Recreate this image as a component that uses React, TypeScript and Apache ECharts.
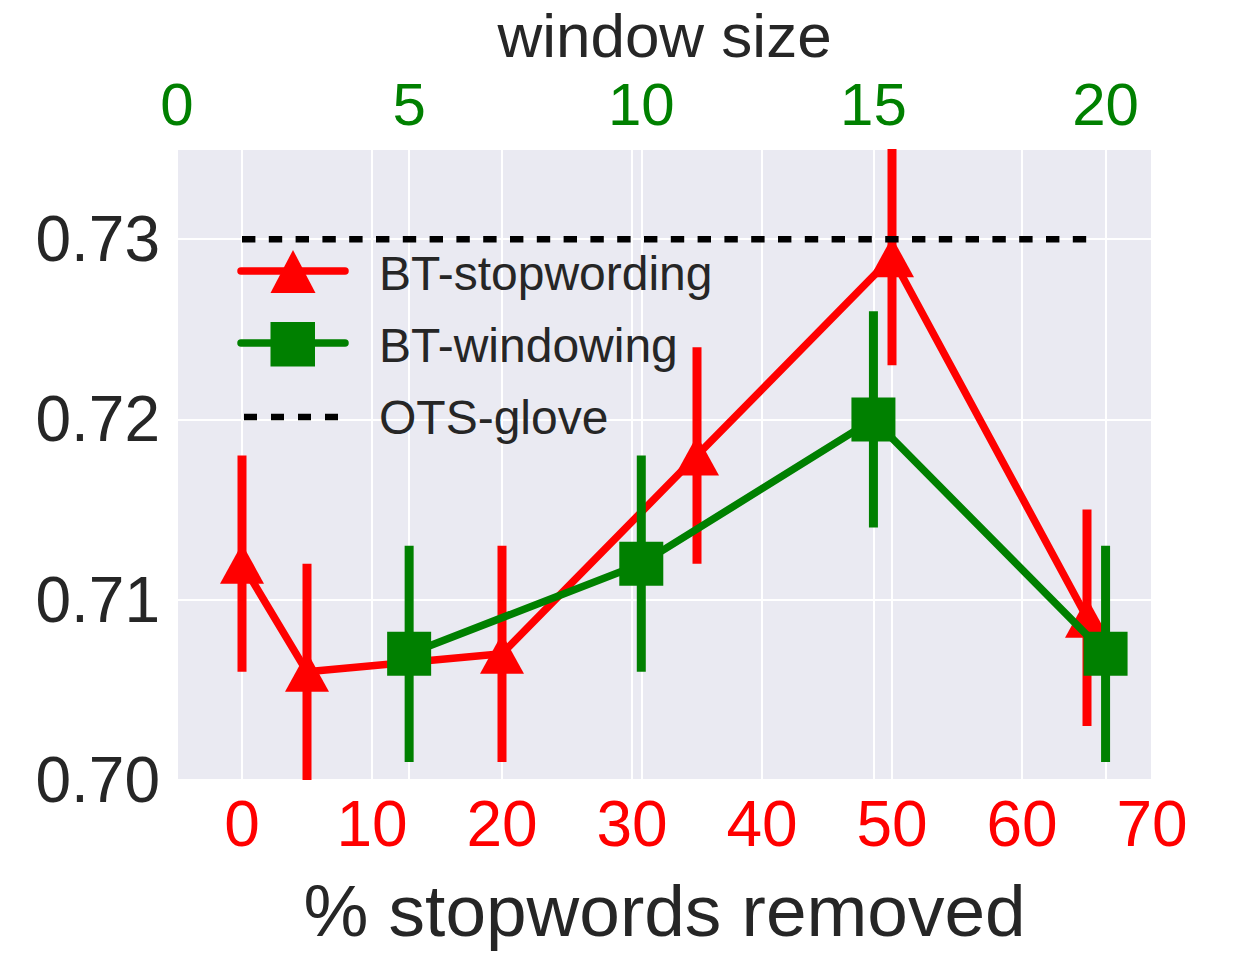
import React, { useEffect, useRef } from "react";
import * as echarts from "echarts";

// ---- data ----
const stopPct = [0, 5, 20, 35, 50, 65];
const stopMean = [0.712, 0.706, 0.707, 0.718, 0.729, 0.709];
const stopErr = [0.006, 0.006, 0.006, 0.006, 0.006, 0.006];

const winSize = [5, 10, 15, 20];
const winMean = [0.707, 0.712, 0.72, 0.707];
const winErr = [0.006, 0.006, 0.006, 0.006];

const otsValue = 0.73;
const otsRange = [0, 65];

const legendNames = ["BT-stopwording", "BT-windowing", "OTS-glove"];

const RED = "#FF0000";
const GREEN = "#008000";
const DARK = "#262626";
const FONT = "Liberation Sans, Arial, sans-serif";

const errRender = (color: string) => (params: any, api: any) => {
  const x = api.value(0);
  const y = api.value(1);
  const e = api.value(2);
  const p1 = api.coord([x, y - e]);
  const p2 = api.coord([x, y + e]);
  return {
    type: "line",
    shape: { x1: p1[0], y1: p1[1], x2: p2[0], y2: p2[1] },
    style: { stroke: color, lineWidth: 9 },
  };
};

export default function App() {
  const ref = useRef<HTMLDivElement>(null);
  useEffect(() => {
    if (!ref.current) return;
    const chart = echarts.init(ref.current, undefined, { renderer: "svg" });
    const stopData = stopPct.map((x, i) => [x, stopMean[i]]);
    const stopErrData = stopPct.map((x, i) => [x, stopMean[i], stopErr[i]]);
    const winData = winSize.map((x, i) => [x, winMean[i]]);
    const winErrData = winSize.map((x, i) => [x, winMean[i], winErr[i]]);
    const otsData = otsRange.map((x) => [x, otsValue]);

    const splitLine = { show: true, lineStyle: { color: "#FFFFFF", width: 2 } };

    chart.setOption({
      animation: false,
      backgroundColor: "#FFFFFF",
      textStyle: { fontFamily: FONT },
      grid: {
        left: 177,
        right: 104,
        top: 149,
        bottom: 179,
        show: true,
        backgroundColor: "#EAEAF2",
        borderWidth: 0,
        containLabel: false,
        outerBoundsMode: "none",
      },
      xAxis: [
        {
          type: "value",
          position: "bottom",
          min: -5,
          max: 70,
          splitNumber: 8,
          name: "% stopwords removed",
          nameLocation: "middle",
          nameGap: 94,
          nameMoveOverlap: false,
          nameTextStyle: { fontSize: 73, color: DARK, fontFamily: FONT },
          axisLine: { show: false },
          axisTick: { show: false },
          axisLabel: {
            color: RED,
            fontSize: 64,
            margin: 12,
            showMinLabel: false,
            fontFamily: FONT,
          },
          splitLine,
        },
        {
          type: "value",
          position: "top",
          min: 0,
          max: 21,
          interval: 5,
          name: "window size",
          nameLocation: "middle",
          nameGap: 83,
          nameMoveOverlap: false,
          nameTextStyle: { fontSize: 62, color: DARK, fontFamily: FONT },
          axisLine: { show: false },
          axisTick: { show: false },
          axisLabel: {
            color: GREEN,
            fontSize: 60,
            margin: 15,
            showMaxLabel: false,
            fontFamily: FONT,
          },
          splitLine,
        },
      ],
      yAxis: {
        type: "value",
        min: 0.7,
        max: 0.735,
        interval: 0.01,
        axisLine: { show: false },
        axisTick: { show: false },
        axisLabel: {
          color: DARK,
          fontSize: 64,
          margin: 17,
          showMaxLabel: false,
          fontFamily: FONT,
          formatter: (v: number) => v.toFixed(2),
        },
        splitLine,
      },
      series: [
        {
          type: "custom",
          name: legendNames[0] + " error",
          xAxisIndex: 0,
          yAxisIndex: 0,
          z: 2,
          clip: true,
          encode: { x: 0, y: 1 },
          renderItem: errRender(RED),
          data: stopErrData,
        },
        {
          type: "line",
          name: legendNames[0],
          xAxisIndex: 0,
          yAxisIndex: 0,
          z: 3,
          data: stopData,
          symbol: "triangle",
          symbolSize: [44, 40],
          itemStyle: { color: RED },
          lineStyle: { color: RED, width: 7.5 },
        },
        {
          type: "custom",
          name: legendNames[1] + " error",
          xAxisIndex: 1,
          yAxisIndex: 0,
          z: 4,
          clip: true,
          encode: { x: 0, y: 1 },
          renderItem: errRender(GREEN),
          data: winErrData,
        },
        {
          type: "line",
          name: legendNames[1],
          xAxisIndex: 1,
          yAxisIndex: 0,
          z: 5,
          data: winData,
          symbol: "rect",
          symbolSize: 44,
          itemStyle: { color: GREEN },
          lineStyle: { color: GREEN, width: 7.5 },
        },
        {
          type: "line",
          name: legendNames[2],
          xAxisIndex: 0,
          yAxisIndex: 0,
          z: 6,
          data: otsData,
          symbol: "none",
          lineStyle: { color: "#000000", width: 6.5, type: [13.4, 13.4] },
        },
      ],
      graphic: [
        {
          type: "line",
          z: 10,
          shape: { x1: 241, y1: 271, x2: 345, y2: 271 },
          style: { stroke: RED, lineWidth: 7.5, lineCap: "round" },
        },
        {
          type: "polygon",
          z: 11,
          shape: { points: [[293, 250], [270.5, 293], [315.5, 293]] },
          style: { fill: RED },
        },
        {
          type: "text",
          z: 11,
          x: 379,
          y: 273,
          style: {
            text: legendNames[0],
            fontSize: 48,
            fontFamily: FONT,
            fill: DARK,
            verticalAlign: "middle",
          },
        },
        {
          type: "line",
          z: 10,
          shape: { x1: 241, y1: 343, x2: 345, y2: 343 },
          style: { stroke: GREEN, lineWidth: 7.5, lineCap: "round" },
        },
        {
          type: "rect",
          z: 11,
          shape: { x: 270.5, y: 322, width: 44.5, height: 44.5 },
          style: { fill: GREEN },
        },
        {
          type: "text",
          z: 11,
          x: 379,
          y: 345,
          style: {
            text: legendNames[1],
            fontSize: 48,
            fontFamily: FONT,
            fill: DARK,
            verticalAlign: "middle",
          },
        },
        {
          type: "line",
          z: 10,
          shape: { x1: 244, y1: 417, x2: 338, y2: 417 },
          style: { stroke: "#000000", lineWidth: 6.5, lineDash: [13, 14] },
        },
        {
          type: "text",
          z: 11,
          x: 379,
          y: 417,
          style: {
            text: legendNames[2],
            fontSize: 48,
            fontFamily: FONT,
            fill: DARK,
            verticalAlign: "middle",
          },
        },
      ],
    });
    return () => chart.dispose();
  }, []);
  return (
    <div
      ref={ref}
      style={{ position: "fixed", left: 0, top: 0, width: 1256, height: 959 }}
    />
  );
}
